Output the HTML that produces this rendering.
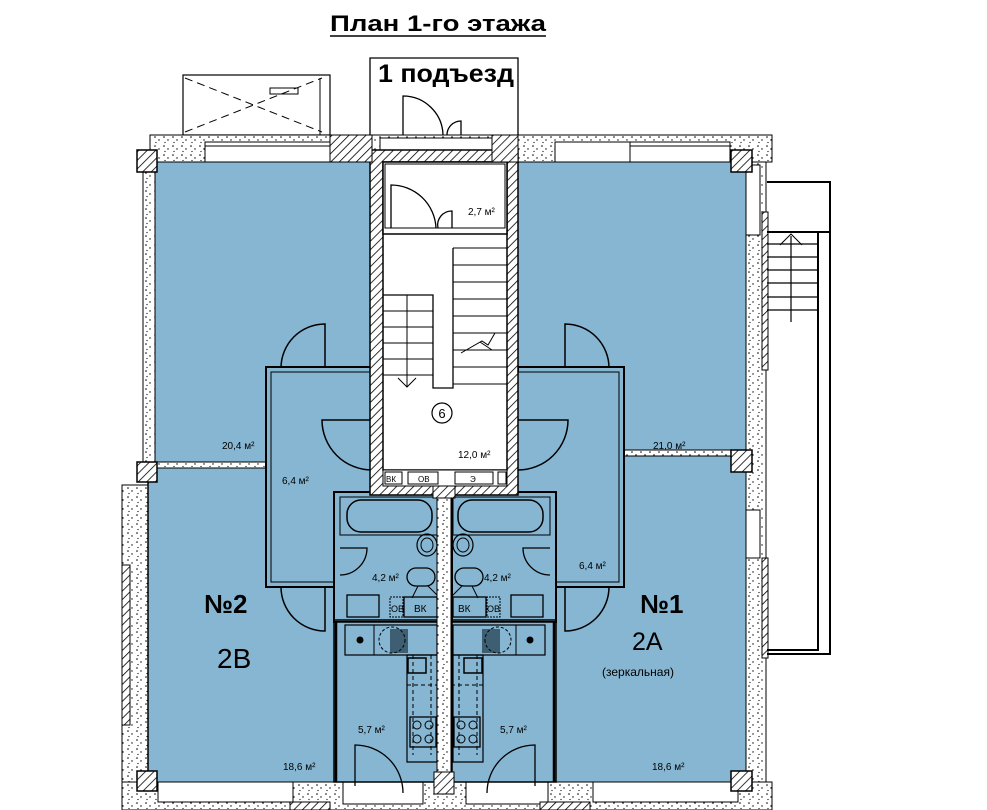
<!DOCTYPE html>
<html><head><meta charset="utf-8"><style>
html,body{margin:0;padding:0;background:#fff;}
svg{display:block}
text{font-family:"Liberation Sans",sans-serif;}
</style></head><body>
<svg width="987" height="810" viewBox="0 0 987 810" xmlns="http://www.w3.org/2000/svg">
<defs>
<pattern id="h" width="6" height="6" patternUnits="userSpaceOnUse" patternTransform="rotate(45)">
<rect width="6" height="6" fill="#fff"/><line x1="0" y1="0" x2="0" y2="6" stroke="#000" stroke-width="1.6"/></pattern>
<pattern id="d" width="9" height="9" patternUnits="userSpaceOnUse">
<rect width="9" height="9" fill="#fff"/><circle cx="2" cy="2" r="0.8" fill="#000"/><circle cx="6" cy="5" r="0.7" fill="#000"/><circle cx="3" cy="7.5" r="0.6" fill="#000"/></pattern>
<g id="half">
 <rect x="266" y="367" width="106" height="220" fill="#86b6d2" stroke="#000" stroke-width="2"/>
 <rect x="271" y="372" width="101" height="210" fill="#86b6d2" stroke="#000" stroke-width="1"/>
 <path d="M281 368 A44 44 0 0 1 325 324 V368" fill="none" stroke="#000" stroke-width="1.5"/>
 <path d="M372 420 H322 A50 50 0 0 0 372 470" fill="none" stroke="#000" stroke-width="1.5"/>
 <path d="M281 587 A44 44 0 0 0 325 631 V587" fill="none" stroke="#000" stroke-width="1.5"/>
 <rect x="334" y="492" width="104" height="130" fill="#86b6d2" stroke="#000" stroke-width="2"/>
 <rect x="340" y="497" width="97" height="38" fill="none" stroke="#000" stroke-width="1"/>
 <rect x="347" y="500" width="85" height="32" rx="14" fill="none" stroke="#000" stroke-width="1.5"/>
 <ellipse cx="427" cy="545" rx="10" ry="11" fill="none" stroke="#000" stroke-width="1.2"/>
 <ellipse cx="427" cy="545" rx="6" ry="7" fill="none" stroke="#000" stroke-width="1"/>
 <rect x="407" y="568" width="28" height="18" rx="9" fill="none" stroke="#000" stroke-width="1.3"/>
 <path d="M418 586 L412 598 M428 586 L440 598" stroke="#000"/>
 <rect x="347" y="595" width="32" height="22" fill="none" stroke="#000" stroke-width="1.3"/>
 <rect x="390" y="597" width="13" height="20" fill="none" stroke="#000" stroke-dasharray="2 1"/>
 <rect x="404" y="597" width="33" height="20" fill="none" stroke="#000" stroke-width="1.3"/>
 <path d="M340 575 A27 27 0 0 0 367 548 H340" fill="none" stroke="#000" stroke-width="1.3"/>
 <line x1="334" y1="620" x2="438" y2="620" stroke="#000" stroke-width="1.5"/>
 <rect x="334" y="622" width="104" height="160" fill="#86b6d2" stroke="#000" stroke-width="1.5"/>
 <rect x="345" y="625" width="92" height="30" fill="none" stroke="#000" stroke-width="1.2"/>
 <line x1="374" y1="625" x2="374" y2="655" stroke="#000"/>
 <circle cx="360" cy="640" r="3.5" fill="#000"/>
 <rect x="390" y="629" width="18" height="24" fill="#2c4a5a" opacity="0.8"/>
 <circle cx="392" cy="640" r="13" fill="none" stroke="#000" stroke-dasharray="3 2"/>
 <path d="M407 655 H437 V762 H407 Z" fill="none" stroke="#000" stroke-width="1.2"/>
 <path d="M413 655 V755 M431 655 V755 M407 685 H437" stroke="#000" stroke-dasharray="4 3"/>
 <rect x="408" y="658" width="18" height="15" fill="none" stroke="#000" stroke-width="1.5"/>
 <rect x="410" y="717" width="26" height="30" fill="none" stroke="#000" stroke-width="1.3"/>
 <circle cx="417" cy="725" r="4" fill="none" stroke="#000"/><circle cx="429" cy="725" r="4" fill="none" stroke="#000"/>
 <circle cx="417" cy="739" r="4" fill="none" stroke="#000"/><circle cx="429" cy="739" r="4" fill="none" stroke="#000"/>
 <path d="M355 786 V745 A48 48 0 0 1 403 793" fill="none" stroke="#000" stroke-width="1.3"/>
 <line x1="336" y1="622" x2="336" y2="782" stroke="#000" stroke-width="2.5"/>
</g>
</defs>

<text x="330" y="31" font-size="22" font-weight="bold" textLength="216" lengthAdjust="spacingAndGlyphs">План 1-го этажа</text>
<line x1="330" y1="36" x2="546" y2="36" stroke="#000" stroke-width="1.5"/>
<path d="M370 135 V58 H518 V135" fill="none" stroke="#000" stroke-width="1.3"/>
<text x="378" y="82" font-size="25" font-weight="bold" textLength="136" lengthAdjust="spacingAndGlyphs">1 подъезд</text>
<path d="M403 135 V96 A40 40 0 0 1 443 135" fill="none" stroke="#000" stroke-width="1.3"/>
<path d="M447 135 A14 14 0 0 1 461 121 V135" fill="none" stroke="#000" stroke-width="1.3"/>

<rect x="183" y="75" width="147" height="60" fill="none" stroke="#000" stroke-width="1.2"/>
<path d="M185 78 L322 132 M185 132 L322 78" stroke="#000" stroke-dasharray="8 5"/>
<rect x="270" y="88" width="28" height="6" fill="none" stroke="#000"/>
<line x1="320" y1="78" x2="320" y2="135" stroke="#000"/>

<rect x="155" y="162" width="217" height="630" fill="#86b6d2"/>
<rect x="518" y="162" width="228" height="630" fill="#86b6d2"/>

<rect x="150" y="135" width="622" height="27" fill="url(#d)" stroke="#000"/>
<rect x="205" y="142" width="125" height="20" fill="#fff" stroke="#000"/>
<line x1="205" y1="146" x2="330" y2="146" stroke="#000"/>
<rect x="555" y="142" width="75" height="20" fill="#fff" stroke="#000"/>
<rect x="630" y="142" width="100" height="20" fill="#fff" stroke="#000"/>
<line x1="630" y1="146" x2="730" y2="146" stroke="#000"/>
<rect x="380" y="138" width="112" height="22" fill="#fff" stroke="#000"/>
<rect x="143" y="162" width="12" height="302" fill="url(#d)" stroke="#000"/>
<rect x="122" y="485" width="26" height="297" fill="url(#d)" stroke="#000"/>
<rect x="122" y="565" width="8" height="160" fill="url(#h)" stroke="#000"/>
<rect x="148" y="467" width="10" height="315" fill="#86b6d2"/>
<line x1="148" y1="482" x2="148" y2="782" stroke="#000" stroke-width="1.5"/>
<rect x="148" y="462" width="118" height="6" fill="url(#d)" stroke="#000"/>
<rect x="746" y="162" width="20" height="620" fill="url(#d)" stroke="#000"/>
<rect x="746" y="165" width="14" height="70" fill="#fff" stroke="#000"/>
<rect x="746" y="510" width="14" height="48" fill="#fff" stroke="#000"/>
<rect x="762" y="212" width="6" height="158" fill="url(#h)" stroke="#000"/>
<rect x="762" y="558" width="6" height="100" fill="url(#h)" stroke="#000"/>
<rect x="622" y="450" width="124" height="6" fill="url(#d)" stroke="#000"/>
<path d="M767 182 H830 V232 M818 232 H830 V654 H767 M818 232 V650 H767 M767 232 H818" fill="none" stroke="#000" stroke-width="2"/>
<path d="M767 244 H818 M767 257 H818 M767 270 H818 M767 283 H818 M767 297 H818 M767 310 H818 M791 236 V322" stroke="#000" stroke-width="1.2"/>
<path d="M780 245 L791 234 L802 245" fill="none" stroke="#000"/>
<rect x="122" y="782" width="650" height="28" fill="url(#d)" stroke="#000"/>
<rect x="158" y="782" width="135" height="20" fill="#fff" stroke="#000"/>
<rect x="343" y="782" width="80" height="22" fill="#fff" stroke="#000"/>
<rect x="466" y="782" width="82" height="22" fill="#fff" stroke="#000"/>
<rect x="593" y="782" width="145" height="20" fill="#fff" stroke="#000"/>
<rect x="290" y="802" width="40" height="8" fill="url(#h)" stroke="#000"/>
<rect x="540" y="802" width="50" height="8" fill="url(#h)" stroke="#000"/>

<use href="#half"/>
<use href="#half" transform="translate(890,0) scale(-1,1)"/>
<g font-size="9">
<text x="391" y="612">ОВ</text><text x="414" y="612" font-size="10">ВК</text>
<text x="487" y="612">ОВ</text><text x="458" y="612" font-size="10">ВК</text>
</g>

<rect x="370" y="150" width="148" height="345" fill="url(#h)" stroke="#000" stroke-width="1.5"/>
<rect x="383" y="162" width="124" height="308" fill="#fff" stroke="#000" stroke-width="1.5"/>
<rect x="383" y="162" width="124" height="72" fill="#fff" stroke="#000" stroke-width="1.5"/>
<rect x="385" y="164" width="120" height="64" fill="#fff" stroke="#000"/>
<path d="M391 228 V185 A45 45 0 0 1 436 228" fill="none" stroke="#000" stroke-width="1.3"/>
<path d="M438 228 A14 14 0 0 1 452 211 V228" fill="none" stroke="#000" stroke-width="1.3"/>
<text x="468" y="215" font-size="10">2,7 м²</text>
<path d="M453 248 V388 H433 V295 H383" fill="none" stroke="#000" stroke-width="1.3"/>
<path d="M453 248 H507 M453 265 H507 M453 282 H507 M453 299 H507 M453 316 H507 M453 333 H507 M453 350 H507 M453 367 H507 M453 384 H507" stroke="#000"/>
<path d="M383 311 H433 M383 327 H433 M383 343 H433 M383 359 H433 M383 375 H433 M407 295 V375" stroke="#000"/>
<path d="M398 378 L407 387 L416 378 M407 372 V387" fill="none" stroke="#000"/>
<path d="M461 353 L482 341 L488 345 L495 333 M480 342 L492 350" fill="none" stroke="#000"/>
<circle cx="442" cy="413" r="10" fill="none" stroke="#000" stroke-width="1.2"/>
<text x="442" y="418" font-size="13" text-anchor="middle">6</text>
<text x="458" y="458" font-size="10">12,0 м²</text>
<rect x="383" y="470" width="124" height="16" fill="#fff" stroke="#000"/>
<rect x="385" y="472" width="17" height="12" fill="none" stroke="#000"/>
<text x="386" y="482" font-size="8">ВК</text>
<rect x="408" y="472" width="30" height="12" fill="none" stroke="#000"/>
<text x="418" y="482" font-size="8">ОВ</text>
<rect x="455" y="472" width="38" height="12" fill="none" stroke="#000"/>
<text x="470" y="482" font-size="8">Э</text>
<rect x="498" y="472" width="8" height="12" fill="none" stroke="#000"/>
<rect x="433" y="486" width="22" height="12" fill="url(#h)" stroke="#000"/>
<rect x="437" y="498" width="14" height="278" fill="url(#d)" stroke="#000"/>
<rect x="434" y="772" width="20" height="22" fill="url(#h)" stroke="#000"/>

<rect x="137" y="150" width="20" height="22" fill="url(#h)" stroke="#000" stroke-width="1.5"/>
<rect x="137" y="462" width="20" height="20" fill="url(#h)" stroke="#000" stroke-width="1.5"/>
<rect x="137" y="771" width="20" height="20" fill="url(#h)" stroke="#000" stroke-width="1.5"/>
<rect x="731" y="150" width="21" height="22" fill="url(#h)" stroke="#000" stroke-width="1.5"/>
<rect x="731" y="450" width="21" height="22" fill="url(#h)" stroke="#000" stroke-width="1.5"/>
<rect x="731" y="771" width="21" height="20" fill="url(#h)" stroke="#000" stroke-width="1.5"/>
<rect x="330" y="135" width="42" height="27" fill="url(#h)" stroke="#000"/>
<rect x="492" y="135" width="26" height="27" fill="url(#h)" stroke="#000"/>

<g font-size="10">
<text x="222" y="449">20,4 м²</text>
<text x="653" y="449">21,0 м²</text>
<text x="282" y="484">6,4 м²</text>
<text x="579" y="569">6,4 м²</text>
<text x="372" y="581">4,2 м²</text>
<text x="484" y="581">4,2 м²</text>
<text x="358" y="733">5,7 м²</text>
<text x="500" y="733">5,7 м²</text>
<text x="283" y="770">18,6 м²</text>
<text x="652" y="770">18,6 м²</text>
</g>
<text x="204" y="613" font-size="26" font-weight="bold">№2</text>
<text x="640" y="613" font-size="26" font-weight="bold">№1</text>
<text x="217" y="668" font-size="28">2B</text>
<text x="632" y="650" font-size="25">2A</text>
<text x="602" y="676" font-size="12">(зеркальная)</text>
</svg>
</body></html>
